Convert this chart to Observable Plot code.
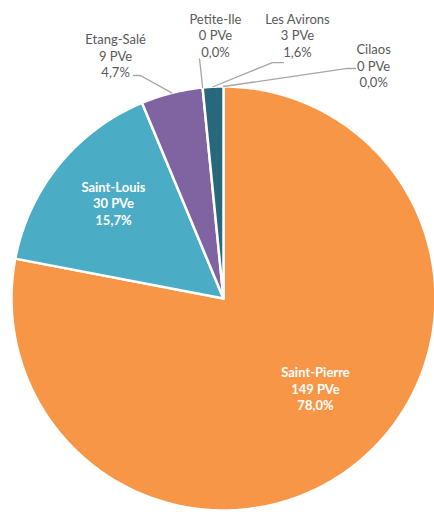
<!DOCTYPE html>
<html>
<head>
<meta charset="utf-8">
<script src="https://cdn.jsdelivr.net/npm/d3@7"></script>
<script src="https://cdn.jsdelivr.net/npm/@observablehq/plot@0.6"></script>
<style>
  html, body { margin: 0; padding: 0; background: #ffffff; }
  #chart svg { display: block; }
</style>
</head>
<body>
<div id="chart"></div>
<script>
// ---- data ----
const communes = ["Saint-Pierre", "Saint-Louis", "Etang-Salé", "Petite-Ile", "Les Avirons", "Cilaos"];
const pve = [149, 30, 9, 0, 3, 0];
const sliceColors = ["#F79646", "#4BACC6", "#8064A2", "#7F7F7F", "#27697B", "#9BBB59"];
const unit = "PVe";

// ---- layout (unit-radius coordinates, y up) ----
const W = 434, H = 512;
const cx = 223, cy = 298, R = 212;
const labelLayout = {
  "Saint-Pierre": {pos: [0.434, -0.425], inside: true},
  "Saint-Louis":  {pos: [-0.519, 0.450], inside: true},
  "Etang-Salé":   {pos: [-0.509, 1.146], leader: [[-0.425, 1.052], [-0.392, 1.052]]},
  "Petite-Ile":   {pos: [-0.038, 1.242], leader: [[-0.113, 1.130]]},
  "Les Avirons":  {pos: [0.349, 1.242], leader: [[0.283, 1.113], [0.231, 1.113]]},
  "Cilaos":       {pos: [0.708, 1.100], leader: [[0.623, 1.085], [0.585, 1.085]]}
};

const total = d3.sum(pve);
const arcs = d3.pie().sort(null).value(d => d)(pve);

// slice polygons
const slicePts = [];
arcs.forEach((a, i) => {
  if (a.endAngle - a.startAngle <= 0) return;
  const name = communes[i];
  slicePts.push({name, x: 0, y: 0});
  const n = Math.max(2, Math.ceil((a.endAngle - a.startAngle) / (2 * Math.PI) * 400));
  for (let k = 0; k <= n; k++) {
    const t = a.startAngle + (a.endAngle - a.startAngle) * k / n;
    slicePts.push({name, x: Math.sin(t), y: Math.cos(t)});
  }
});

const fmtPct = v => (v / total * 100).toFixed(1).replace(".", ",") + "%";
const labels = communes.map((c, i) => ({
  name: c,
  text: `${c}\n${pve[i]} ${unit}\n${fmtPct(pve[i])}`,
  x: labelLayout[c].pos[0],
  y: labelLayout[c].pos[1],
  inside: !!labelLayout[c].inside
}));

// leader lines
const leaderPts = [];
arcs.forEach((a, i) => {
  const L = labelLayout[communes[i]];
  if (!L.leader) return;
  const mid = (a.startAngle + a.endAngle) / 2;
  L.leader.forEach(p => leaderPts.push({name: communes[i], x: p[0], y: p[1]}));
  leaderPts.push({name: communes[i], x: Math.sin(mid), y: Math.cos(mid)});
});

const chart = Plot.plot({
  width: W,
  height: H,
  margin: 0,
  style: {background: "#ffffff", overflow: "visible"},
  x: {domain: [-1, 1], range: [cx - R, cx + R], axis: null},
  y: {domain: [-1, 1], range: [cy + R, cy - R], axis: null},
  color: {domain: communes, range: sliceColors},
  marks: [
    Plot.line(slicePts, {
      x: "x", y: "y", z: "name", fill: "name",
      stroke: "#ffffff", strokeWidth: 2.5, strokeLinejoin: "round",
      curve: "linear-closed"
    }),
    Plot.line(leaderPts, {
      x: "x", y: "y", z: "name",
      stroke: "#A6A6A6", strokeWidth: 1.3
    }),
    Plot.text(labels.filter(d => !d.inside), {
      x: "x", y: "y", text: "text",
      fill: "#595959", fontSize: 13, lineHeight: 1.27,
      fontFamily: "Lato, 'Open Sans', sans-serif"
    }),
    Plot.text(labels.filter(d => d.inside), {
      x: "x", y: "y", text: "text",
      fill: "#ffffff", fontSize: 13, fontWeight: "bold", lineHeight: 1.27,
      fontFamily: "Lato, 'Open Sans', sans-serif"
    })
  ]
});
document.getElementById("chart").appendChild(chart);
</script>
</body>
</html>
